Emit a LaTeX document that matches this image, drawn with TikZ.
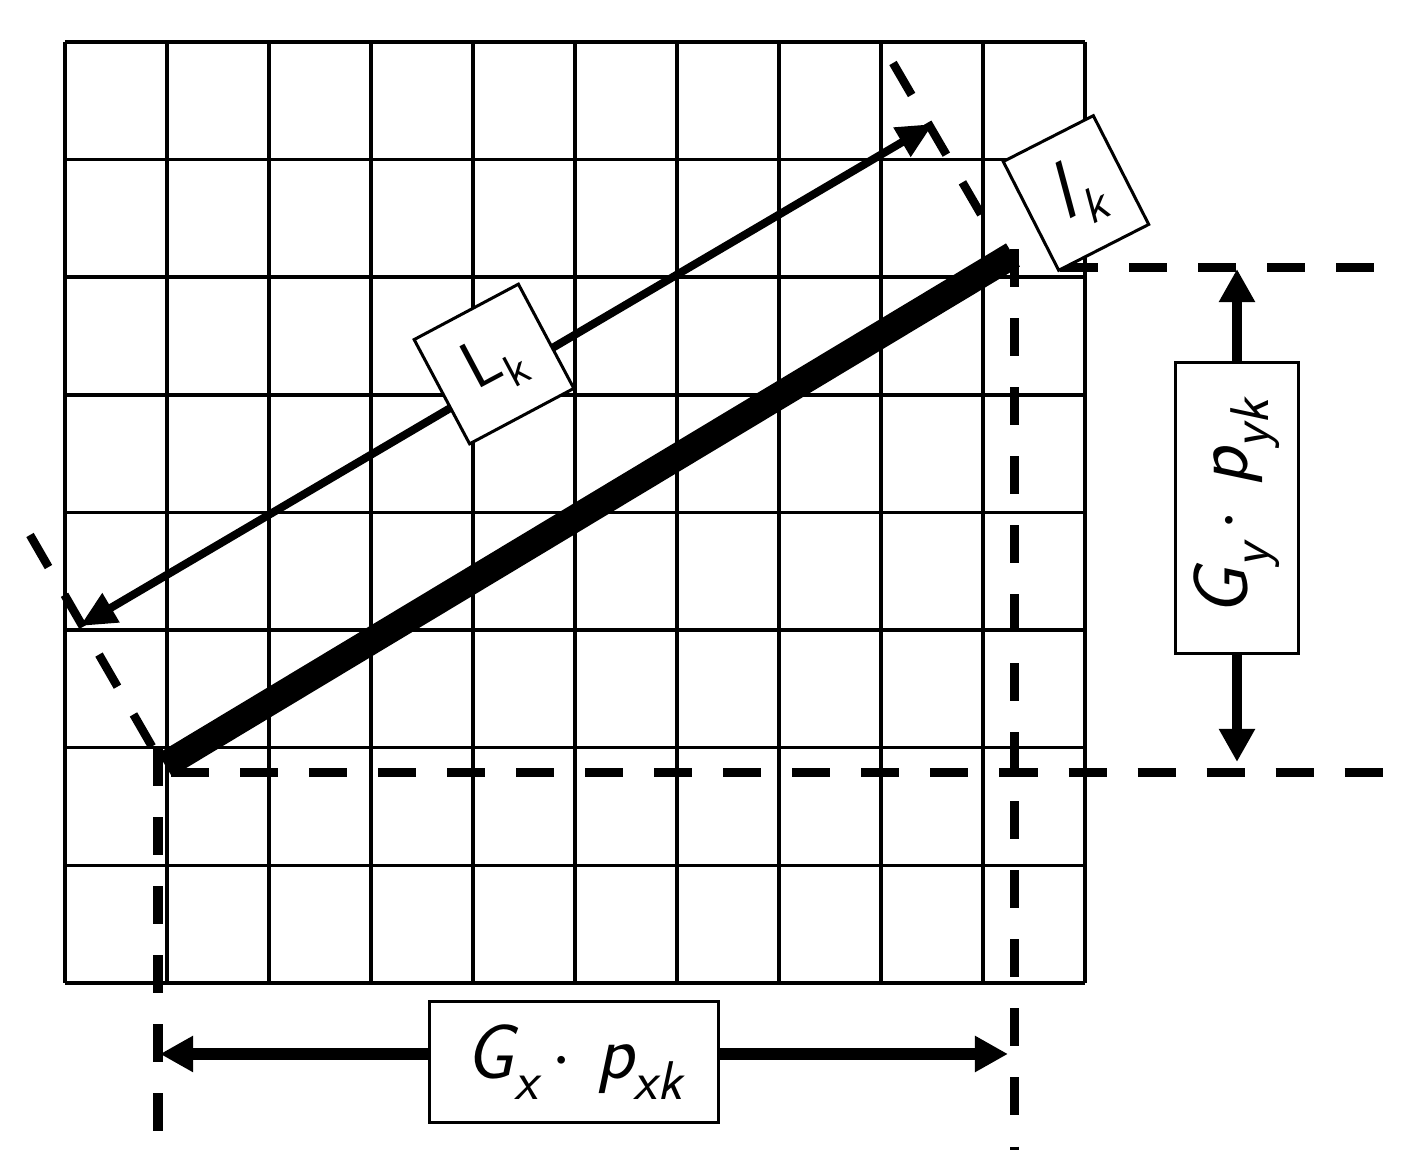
\documentclass[tikz,border=0pt]{standalone}
\usetikzlibrary{arrows.meta}
\newcommand{\sbs}[3][4.5pt]{\raisebox{-#1}{\fontsize{#2}{#2}\selectfont #3}}
\begin{document}
\begin{tikzpicture}[x=0.01cm, y=-0.01cm,
  gridline/.style={line width=0.035cm},
  dimdash/.style={line width=0.09cm, dash pattern=on 0.38cm off 0.31cm},
  diagdash/.style={line width=0.085cm, dash pattern=on 0.37cm off 0.32cm},
  thickbar/.style={line width=0.27cm},
  lenarrow/.style={line width=0.08cm, {Triangle[length=0.36cm,width=0.32cm]}-{Triangle[length=0.36cm,width=0.32cm]}},
  dimarrow/.style={-{Triangle[length=0.33cm,width=0.34cm]}},
  labelbox/.style={draw, fill=white, line width=0.03cm, inner sep=0pt, font=\sffamily},
]
\useasboundingbox (0,0) rectangle (1402,1171);
% grid
\foreach \i in {0,...,10} \draw[gridline] ({65+102*\i},42) -- ({65+102*\i},983);
\foreach \j in {0,...,8} \draw[gridline] (65,{42+117.625*\j}) -- (1085,{42+117.625*\j});
% key points
\coordinate (A) at (165,765);
\coordinate (B) at (1013,255);
% dashed extension lines
\coordinate (hl1) at (171,773); \coordinate (hl2) at (1383,773);
\coordinate (ht1) at (1060,268); \coordinate (ht2) at (1383,268);
\coordinate (vl1) at (158,748); \coordinate (vl2) at (158,1132);
\coordinate (vr1) at (1014,249); \coordinate (vr2) at (1014,1150);
\coordinate (du1) at (893,63); \coordinate (du2) at (982,216);
\coordinate (dl1) at (30,535); \coordinate (dl2) at (154,750);
\draw[dimdash] (hl1) -- (hl2);
\draw[dimdash] (ht1) -- (ht2);
\draw[dimdash] (vl1) -- (vl2);
\draw[dimdash] (vr1) -- (vr2);
\draw[diagdash] (du1) -- (du2);
\draw[diagdash] (dl1) -- (dl2);
% thick bar
\draw[thickbar] (A) -- (B);
% L_k arrow
\coordinate (la) at (933,124);
\coordinate (lb) at (80,626);
\draw[lenarrow] (la) -- (lb);
\node[labelbox, rotate=28, minimum width=1.18cm, minimum height=1.18cm] (Lk) at (494,364)
  {\fontsize{19}{19}\selectfont L\sbs{13}{k}};
\node[labelbox, rotate=27, minimum width=1.01cm, minimum height=1.22cm] (lk) at (1076,193)
  {\fontsize{23}{23}\selectfont\slshape l\kern1pt\sbs{14}{k}};
% Gy dimension
\node[labelbox, minimum width=1.22cm, minimum height=2.9cm] (gy) at (1237,508)
  {\rotatebox{90}{\fontsize{22}{22}\selectfont\slshape G\sbs[6pt]{15.5}{y}\kern4pt$\cdot$\kern7pt p\sbs[6pt]{15.5}{yk}}};
\coordinate (gyt) at (1237,269);
\coordinate (gyb) at (1237,762);
\draw[dimarrow, line width=0.1cm] (gy.north) -- (gyt);
\draw[dimarrow, line width=0.1cm] (gy.south) -- (gyb);
% Gx dimension
\node[labelbox, minimum width=2.88cm, minimum height=1.2cm] (gx) at (574,1062)
  {\fontsize{22}{22}\selectfont\slshape G\sbs[6pt]{15.5}{x}\kern4pt$\cdot$\kern7pt p\sbs[6pt]{15.5}{xk}};
\coordinate (gxl) at (160,1054);
\coordinate (gxr) at (1008,1054);
\draw[dimarrow, line width=0.12cm] (gx.west |- gxl) -- (gxl);
\draw[dimarrow, line width=0.12cm] (gx.east |- gxr) -- (gxr);
\end{tikzpicture}
\end{document}
